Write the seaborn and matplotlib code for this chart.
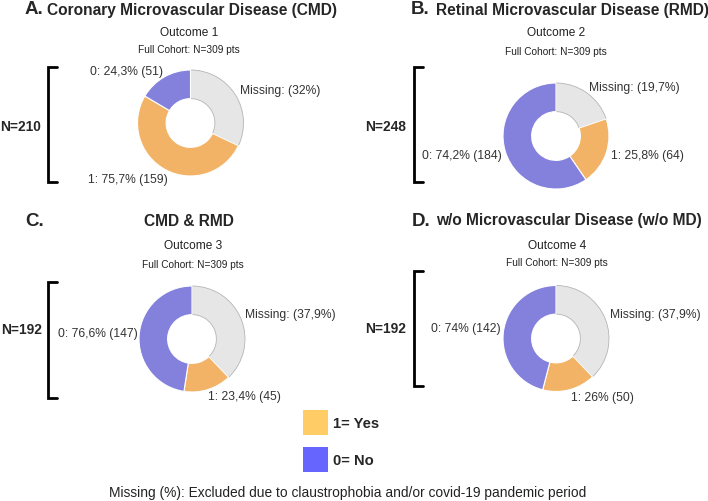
import matplotlib
matplotlib.use("Agg")
import matplotlib.pyplot as plt
import seaborn as sns
from matplotlib.lines import Line2D
from matplotlib.patches import Rectangle

# ---------------- data ----------------
panel_letters = ["A.", "B.", "C.", "D."]
panel_titles = ["Coronary Microvascular Disease (CMD)", "Retinal Microvascular Disease (RMD)",
                "CMD & RMD", "w/o Microvascular Disease (w/o MD)"]
outcomes = ["Outcome 1", "Outcome 2", "Outcome 3", "Outcome 4"]
cohort_label = "Full Cohort: N=309 pts"
n_total = 309
n_analyzed = [210, 248, 192, 192]
n_yes = [159, 64, 45, 50]
n_no = [51, 184, 147, 142]
missing_pct = ["32%", "19,7%", "37,9%", "37,9%"]
yes_pct = ["75,7%", "25,8%", "23,4%", "26%"]
no_pct = ["24,3%", "74,2%", "76,6%", "74%"]
legend_labels = ["1= Yes", "0= No"]
footer = "Missing (%): Excluded due to claustrophobia and/or covid-19 pandemic period"

# ---------------- style ----------------
sns.set_theme(style="white")
plt.rcParams['font.family'] = ['Liberation Sans', 'DejaVu Sans']

c_missing = "#E6E6E6"
c_yes = "#F2B366"
c_no = "#8481DC"
leg_yes = "#FFCC66"
leg_no = "#6666FF"

W, H = 708, 502
fig = plt.figure(figsize=(W / 100, H / 100), dpi=100)


def fx(x):
    return x / W


def fy(y):
    return 1 - y / H


def ftext(x, y, s, **kw):
    fig.text(fx(x), fy(y), s, va="center", **kw)


# layout per panel (pixel positions)
centers = [(190.5, 124), (556, 137), (192, 340), (556, 339.5)]
radius = 53
letter_x = [25, 411, 25, 412]
title_pos = [(47, 10, "left"), (436, 10, "left"), (189, 221, "center"), (436, 221, "left")]
letter_y = [10, 10, 221, 221]
outcome_pos = [(189, 33, 50), (556, 33, 52), (193, 246, 265), (557, 246, 263)]
bracket = [(48, 68, 183), (414, 68, 183), (48, 283, 399), (414, 272, 387)]
nlabel = [(41, 127), (406, 127), (42, 330), (406, 329)]
lab_missing = [(240, 91), (589, 88), (245, 315), (610, 315)]
lab_no = [(90, 72), (422, 156), (58, 334), (431, 329)]
lab_yes = [(88, 180), (611, 156), (208, 397), (571, 398)]

for i in range(4):
    cx, cy = centers[i]
    ax = fig.add_axes([fx(cx - radius), fy(cy + radius), 2 * radius / W, 2 * radius / H])
    missing = n_total - n_yes[i] - n_no[i]
    wedges, _ = ax.pie([missing, n_yes[i], n_no[i]],
                       colors=[c_missing, c_yes, c_no],
                       startangle=90, counterclock=False, radius=1.0,
                       wedgeprops=dict(width=0.54, edgecolor="white", linewidth=0.8))
    wedges[0].set_edgecolor("#B5B5B5")
    wedges[0].set_linewidth(0.6)
    ax.set_xlim(-1, 1)
    ax.set_ylim(-1, 1)
    ax.set_aspect("auto")
    ax.axis("off")
    for w in wedges:
        w.set_clip_on(False)

    # titles
    ftext(letter_x[i], letter_y[i], panel_letters[i], fontsize=13.5, fontweight="bold", ha="left")
    tx, ty, tha = title_pos[i]
    ftext(tx, ty, panel_titles[i], fontsize=11.2, fontweight="bold", ha=tha)
    ox, oy1, oy2 = outcome_pos[i]
    ftext(ox, oy1, outcomes[i], fontsize=8.6, ha="center", color="#222222")
    ftext(ox, oy2, cohort_label, fontsize=7.3, ha="center", color="#222222")

    # bracket
    bx, by0, by1 = bracket[i]
    fig.add_artist(Line2D([fx(bx + 9), fx(bx), fx(bx), fx(bx + 9)],
                          [fy(by0), fy(by0), fy(by1), fy(by1)],
                          color="black", lw=2, solid_joinstyle="miter"))
    nx, ny = nlabel[i]
    ftext(nx, ny, f"N={n_analyzed[i]}", fontsize=9.9, fontweight="bold", ha="right")

    # slice labels
    mx, my = lab_missing[i]
    ftext(mx, my, f"Missing: ({missing_pct[i]})", fontsize=8.7, ha="left", color="#333333")
    zx, zy = lab_no[i]
    ftext(zx, zy, f"0: {no_pct[i]} ({n_no[i]})", fontsize=8.7, ha="left", color="#333333")
    yx, yy = lab_yes[i]
    ftext(yx, yy, f"1: {yes_pct[i]} ({n_yes[i]})", fontsize=8.7, ha="left", color="#333333")

# legend
for (ly, col, lab) in [(411, leg_yes, legend_labels[0]), (448, leg_no, legend_labels[1])]:
    fig.add_artist(Rectangle((fx(303), fy(ly + 25)), 25 / W, 25 / H,
                             facecolor=col, edgecolor="none", transform=fig.transFigure))
    ftext(333, ly + 13, lab, fontsize=10.6, fontweight="bold", ha="left")

ftext(348, 493, footer, fontsize=9.9, ha="center", color="#222222")

fig.savefig("out.png", dpi=100)
